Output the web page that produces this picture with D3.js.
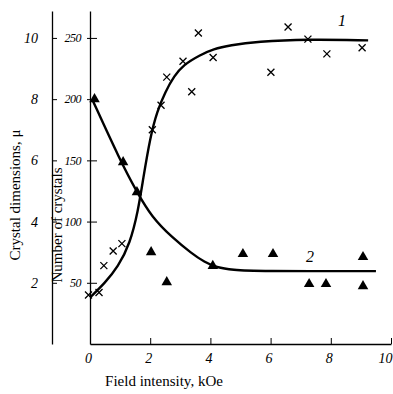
<!DOCTYPE html>
<html>
<head>
<meta charset="utf-8">
<script src="https://cdn.jsdelivr.net/npm/d3@7"></script>
<style>
  body { margin: 0; background: #fff; }
  .tick text { font-family: "Liberation Serif", serif; font-style: italic; fill: #000; }
  .domain, .tick line { stroke: #000; }
</style>
</head>
<body>
<div id="chart"></div>
<script>
// crosses: number of crystals (curve 1)
var crossX = [-0.05, 0.3, 0.46, 0.77, 1.06, 2.07, 2.36, 2.55, 3.09, 3.38, 3.6, 4.09, 6.01, 6.58, 7.24, 7.87, 9.04];
var crossY = [40, 42, 64, 76, 82, 175, 195, 218, 231, 206, 254, 234, 222, 259, 249, 237, 242];
// triangles: crystal dimensions (curve 2)
var triX = [0.15, 1.1, 1.56, 2.03, 2.55, 4.08, 5.08, 6.08, 7.28, 7.84, 9.07, 9.07];
var triY = [8.0, 5.94, 4.96, 3.0, 2.02, 2.55, 2.94, 2.94, 1.96, 1.96, 2.84, 1.89];
// smooth curves
var curve1X = [0, 0.5, 0.93, 1.33, 1.6, 1.76, 2.0, 2.23, 2.5, 2.8, 3.1, 3.65, 4.1, 4.65, 5.55, 7.2, 9.24];
var curve1Y = [38, 50, 63, 82, 109, 134, 169, 190, 206, 219, 228, 236, 241, 244, 247, 249, 248];
var curve2X = [0.07, 1.0, 1.56, 2.06, 2.72, 3.39, 3.8, 4.2, 4.75, 5.5, 9.5];
var curve2Y = [8.0, 6.0, 4.96, 4.14, 3.49, 2.95, 2.68, 2.5, 2.42, 2.38, 2.38];

var xTicks = [0, 2, 4, 6, 8, 10];
var countTicks = [50, 100, 150, 200, 250];
var sizeTicks = [2, 4, 6, 8, 10];

var W = 393, H = 394;
var svg = d3.select("#chart").append("svg")
  .attr("width", W).attr("height", H);

var x = d3.scaleLinear().domain([0, 10]).range([90, 391]);
var yCount = d3.scaleLinear().domain([0, 272]).range([344, 11]);
var ySize = d3.scaleLinear().domain([0, 10.88]).range([344, 11]);

// x axis
svg.append("g")
  .attr("transform", "translate(0,344)")
  .call(d3.axisBottom(x).tickValues(xTicks).tickFormat(d3.format("d"))
    .tickSizeInner(-6).tickSizeOuter(0).tickPadding(9))
  .call(function(g) {
    g.selectAll(".tick text").style("font-size", "14px")
      .attr("dx", function(d) { return d === 10 ? "-6" : "-2"; });
    g.select(".domain").attr("stroke-width", 1.3);
  });

// inner y axis (number of crystals)
svg.append("g")
  .attr("transform", "translate(90,0)")
  .call(d3.axisLeft(yCount).tickValues(countTicks)
    .tickSizeInner(-7).tickSizeOuter(0).tickPadding(9))
  .call(function(g) {
    g.selectAll(".tick text").style("font-size", "12px").style("letter-spacing", "-0.5px");
    g.selectAll(".tick line").attr("x1", -3);
    g.select(".domain").attr("stroke-width", 1.3);
  });

// outer y axis (crystal dimensions)
svg.append("g")
  .attr("transform", "translate(52,0)")
  .call(d3.axisLeft(ySize).tickValues(sizeTicks)
    .tickSizeInner(-5).tickSizeOuter(0).tickPadding(14))
  .call(function(g) {
    g.selectAll(".tick text").style("font-size", "14px");
    g.select(".domain").attr("stroke-width", 1.3);
  });

// axis titles
svg.append("text")
  .attr("x", 164).attr("y", 386)
  .attr("text-anchor", "middle")
  .style("font-family", "Liberation Serif, serif")
  .style("font-size", "15px")
  .text("Field intensity, kOe");

svg.append("text")
  .attr("transform", "translate(20,195) rotate(-90)")
  .attr("text-anchor", "middle")
  .style("font-family", "Liberation Serif, serif")
  .style("font-size", "15px")
  .text("Crystal dimensions, \u03bc");

svg.append("text")
  .attr("transform", "translate(62,225) rotate(-90)")
  .attr("text-anchor", "middle")
  .style("font-family", "Liberation Serif, serif")
  .style("font-size", "15px")
  .text("Number of crystals");

// curves
var line1 = d3.line()
  .x(function(d) { return x(d[0]); })
  .y(function(d) { return yCount(d[1]); })
  .curve(d3.curveBasis);
var line2 = d3.line()
  .x(function(d) { return x(d[0]); })
  .y(function(d) { return ySize(d[1]); })
  .curve(d3.curveBasis);

svg.append("path")
  .datum(d3.zip(curve1X, curve1Y))
  .attr("d", line1)
  .attr("fill", "none").attr("stroke", "#000").attr("stroke-width", 2.4);

svg.append("path")
  .datum(d3.zip(curve2X, curve2Y))
  .attr("d", line2)
  .attr("fill", "none").attr("stroke", "#000").attr("stroke-width", 2.4);

// crosses
svg.selectAll(".cross")
  .data(d3.zip(crossX, crossY))
  .enter().append("path")
  .attr("class", "cross")
  .attr("transform", function(d) { return "translate(" + x(d[0]) + "," + yCount(d[1]) + ")"; })
  .attr("d", "M-3.5,-3.5L3.5,3.5M-3.5,3.5L3.5,-3.5")
  .attr("stroke", "#000").attr("stroke-width", 1.3).attr("fill", "none");

// triangles
svg.selectAll(".tri")
  .data(d3.zip(triX, triY))
  .enter().append("path")
  .attr("class", "tri")
  .attr("transform", function(d) { return "translate(" + x(d[0]) + "," + ySize(d[1]) + ")"; })
  .attr("d", d3.symbol().type(d3.symbolTriangle).size(48))
  .attr("fill", "#000");

// curve labels
svg.append("text")
  .attr("x", 342).attr("y", 26)
  .attr("text-anchor", "middle")
  .style("font-family", "Liberation Serif, serif").style("font-style", "italic")
  .style("font-size", "16px")
  .text("1");

svg.append("text")
  .attr("x", 310).attr("y", 262)
  .attr("text-anchor", "middle")
  .style("font-family", "Liberation Serif, serif").style("font-style", "italic")
  .style("font-size", "16px")
  .text("2");
</script>
</body>
</html>
